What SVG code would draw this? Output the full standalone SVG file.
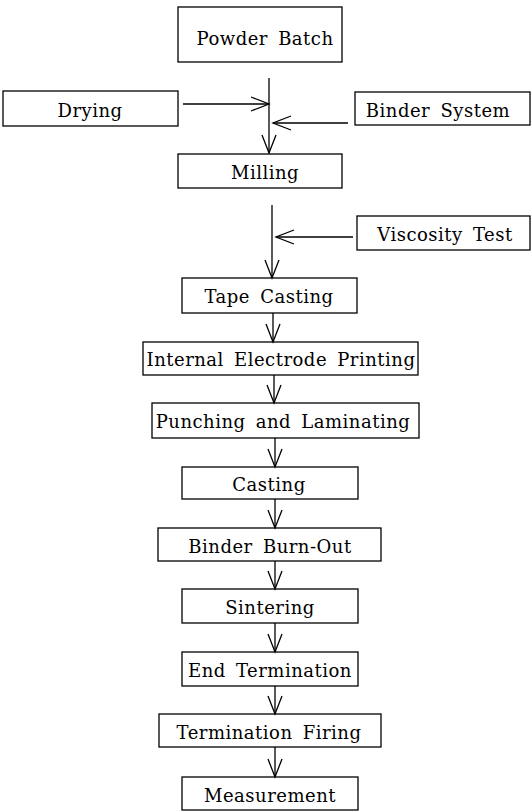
<svg xmlns="http://www.w3.org/2000/svg" width="531" height="811" viewBox="0 0 531 811">
<style>
.box{fill:#fff;stroke:#000;stroke-width:1.3}
text{font-family:'DejaVu Serif','Liberation Serif',serif;font-size:18px;letter-spacing:0.5px;word-spacing:4px;text-anchor:middle;fill:#000}
.c{fill:none;stroke:#000;stroke-width:1.3}
</style>
<defs>
<marker id="ah" markerUnits="userSpaceOnUse" markerWidth="20" markerHeight="16" refX="18" refY="7" orient="auto" overflow="visible">
<path d="M0,0 L18,7 L0,14" fill="none" stroke="#000" stroke-width="1.3"/>
</marker>
</defs>
<rect width="531" height="811" fill="#fff"/>
<g id="powder-batch"><rect class="box" x="178" y="7" width="164" height="55"/><text x="265" y="45">Powder Batch</text></g>
<g id="drying"><rect class="box" x="3" y="91" width="175" height="35"/><text x="90" y="117">Drying</text></g>
<g id="binder-system"><rect class="box" x="355" y="92" width="175" height="33"/><text x="438" y="117">Binder System</text></g>
<g id="milling"><rect class="box" x="178" y="154" width="164" height="34"/><text x="265" y="179">Milling</text></g>
<g id="viscosity-test"><rect class="box" x="357" y="216" width="173" height="34"/><text x="445" y="241">Viscosity Test</text></g>
<g id="tape-casting"><rect class="box" x="182" y="278" width="175" height="35"/><text x="269" y="303">Tape Casting</text></g>
<g id="internal-electrode-printing"><rect class="box" x="143" y="342" width="275" height="33"/><text x="281" y="366">Internal Electrode Printing</text></g>
<g id="punching-laminating"><rect class="box" x="152" y="403" width="267" height="35"/><text x="283" y="428">Punching and Laminating</text></g>
<g id="casting"><rect class="box" x="182" y="467" width="176" height="32"/><text x="269" y="491">Casting</text></g>
<g id="binder-burn-out"><rect class="box" x="158" y="528" width="223" height="33"/><text x="270" y="553">Binder Burn-Out</text></g>
<g id="sintering"><rect class="box" x="182" y="589" width="176" height="34"/><text x="270" y="614">Sintering</text></g>
<g id="end-termination"><rect class="box" x="182" y="652" width="176" height="34"/><text x="270" y="677">End Termination</text></g>
<g id="termination-firing"><rect class="box" x="159" y="714" width="222" height="33"/><text x="269" y="739">Termination Firing</text></g>
<g id="measurement"><rect class="box" x="182" y="777" width="176" height="33"/><text x="270" y="802">Measurement</text></g>
<g id="connectors">
<line class="c" x1="269" y1="78" x2="269" y2="153" marker-end="url(#ah)"/>
<line class="c" x1="183" y1="104" x2="269" y2="104" marker-end="url(#ah)"/>
<line class="c" x1="348" y1="123" x2="273" y2="123" marker-end="url(#ah)"/>
<line class="c" x1="272" y1="205" x2="272" y2="278" marker-end="url(#ah)"/>
<line class="c" x1="353" y1="237" x2="276" y2="237" marker-end="url(#ah)"/>
<line class="c" x1="273" y1="313" x2="273" y2="342" marker-end="url(#ah)"/>
<line class="c" x1="274" y1="375" x2="274" y2="403" marker-end="url(#ah)"/>
<line class="c" x1="275" y1="438" x2="275" y2="467" marker-end="url(#ah)"/>
<line class="c" x1="275" y1="499" x2="275" y2="528" marker-end="url(#ah)"/>
<line class="c" x1="275" y1="561" x2="275" y2="589" marker-end="url(#ah)"/>
<line class="c" x1="275" y1="623" x2="275" y2="652" marker-end="url(#ah)"/>
<line class="c" x1="275" y1="686" x2="275" y2="714" marker-end="url(#ah)"/>
<line class="c" x1="275" y1="747" x2="275" y2="777" marker-end="url(#ah)"/>
</g>
</svg>
